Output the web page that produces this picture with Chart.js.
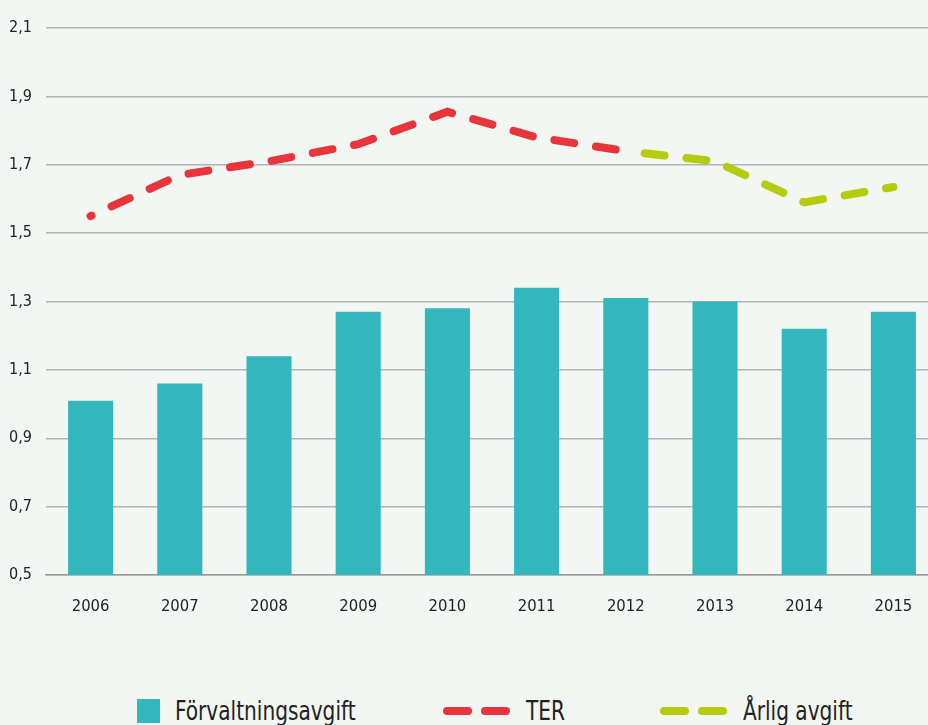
<!DOCTYPE html>
<html>
<head>
<meta charset="utf-8">
<script src="https://cdn.jsdelivr.net/npm/chart.js@4.4.1/dist/chart.umd.min.js"></script>
<style>
  html, body { margin: 0; padding: 0; background: #f3f7f3; overflow: hidden; }
  body { width: 928px; height: 725px; position: relative; font-family: "DejaVu Sans Condensed", "DejaVu Sans", sans-serif; }
  #wrap { position: absolute; left: 0; top: 0; width: 938px; height: 640px; }
  .leg { position: absolute; top: 696px; display: flex; align-items: center; font-size: 26px; color: #222; white-space: nowrap; }
  .leg .txt { display: inline-block; transform: scaleX(0.86); transform-origin: left center; }
  .box { width: 23px; height: 24px; background: #33b6bc; margin-right: 15px; }
  .dash { width: 29px; height: 8px; border-radius: 4px; margin-right: 9px; }
  .dash:nth-child(2) { margin-right: 16px; }
</style>
</head>
<body>
<div id="wrap"><canvas id="chart"></canvas></div>
<div class="leg" style="left:137px"><span class="box"></span><span class="txt">Förvaltningsavgift</span></div>
<div class="leg" style="left:443px"><span class="dash" style="background:#e8353b"></span><span class="dash" style="background:#e8353b"></span><span class="txt">TER</span></div>
<div class="leg" style="left:660px"><span class="dash" style="background:#b3cc0e"></span><span class="dash" style="background:#b3cc0e"></span><span class="txt">Årlig avgift</span></div>
<script>
// Avgifter (%) per år
const years = ['2006', '2007', '2008', '2009', '2010', '2011', '2012', '2013', '2014', '2015'];
const forvaltningsavgift = [1.01, 1.06, 1.14, 1.27, 1.28, 1.34, 1.31, 1.30, 1.22, 1.27];
const ter = [1.55, 1.67, 1.71, 1.76, 1.855, 1.78, 1.74, null, null, null];
const arligAvgift = [null, null, null, null, null, null, 1.74, 1.71, 1.59, 1.635];
const yTicks = [0.5, 0.7, 0.9, 1.1, 1.3, 1.5, 1.7, 1.9, 2.1];

const FONT = '"DejaVu Sans Condensed", "DejaVu Sans", sans-serif';

new Chart(document.getElementById('chart'), {
    type: 'bar',
    data: {
        labels: years,
        datasets: [
            {
                type: 'line',
                label: 'TER',
                data: ter,
                borderColor: '#e8353b',
                borderWidth: 8,
                borderDash: [20, 22],
                borderDashOffset: 19,
                borderCapStyle: 'round',
                pointRadius: 0,
                tension: 0,
                order: 0
            },
            {
                type: 'line',
                label: 'Årlig avgift',
                data: arligAvgift,
                borderColor: '#b3cc0e',
                borderWidth: 8,
                borderDash: [20, 22],
                borderDashOffset: 23,
                borderCapStyle: 'round',
                pointRadius: 0,
                tension: 0,
                order: 1
            },
            {
                label: 'Förvaltningsavgift',
                data: forvaltningsavgift,
                backgroundColor: '#33b6bc',
                barPercentage: 0.505,
                categoryPercentage: 1,
                order: 2
            }
        ]
    },
    options: {
        responsive: true,
        maintainAspectRatio: false,
        animation: false,
        layout: { padding: { top: 28, right: 0, bottom: 0, left: 0 } },
        plugins: {
            legend: { display: false },
            tooltip: { enabled: false }
        },
        scales: {
            x: {
                grid: { display: false, drawTicks: false },
                border: { display: true, color: '#9a9a9a', width: 1.5 },
                ticks: { color: '#222', font: { family: FONT, size: 16.5 }, padding: 22 },
                afterFit: (scale) => { scale.height = 65; }
            },
            y: {
                min: 0.5,
                max: 2.1,
                afterBuildTicks: (scale) => { scale.ticks = yTicks.map(v => ({ value: v })); },
                grid: { color: '#b3b3b3', lineWidth: 1.5, drawTicks: false },
                border: { display: false },
                ticks: {
                    color: '#222',
                    font: { family: FONT, size: 16 },
                    padding: 14,
                    callback: (value) => value.toFixed(1).replace('.', ',')
                },
                afterFit: (scale) => { scale.width = 46; }
            }
        }
    }
});
</script>
</body>
</html>
